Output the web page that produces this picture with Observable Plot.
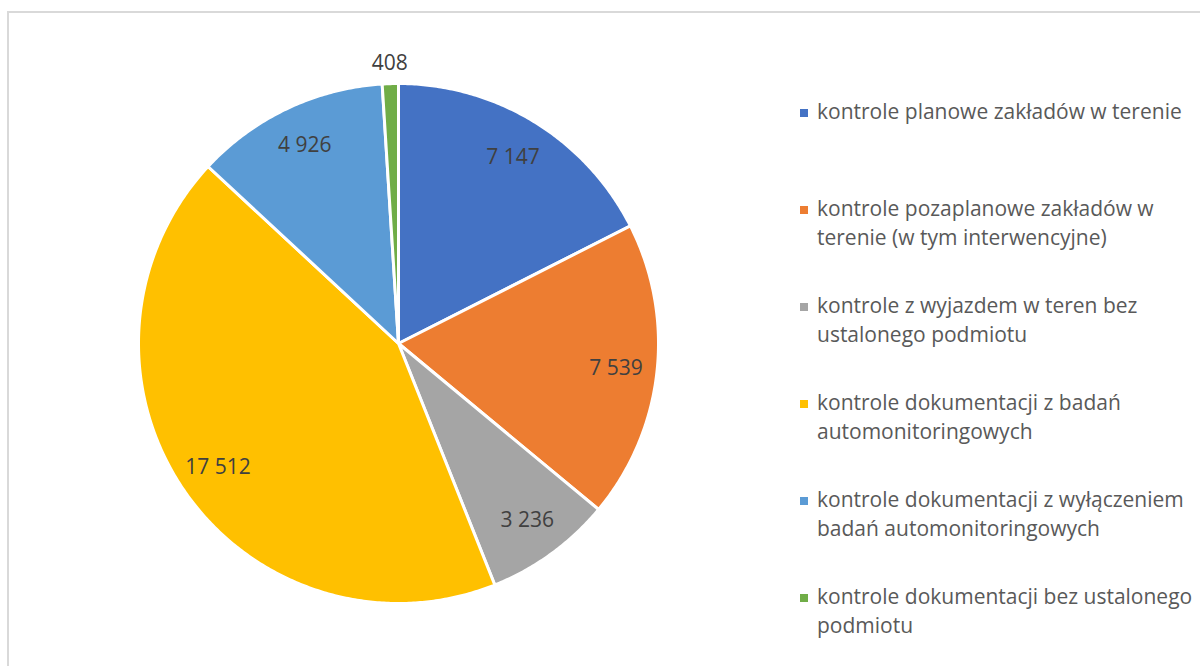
<!DOCTYPE html>
<html>
<head>
<meta charset="utf-8">
<script src="https://cdn.jsdelivr.net/npm/d3@7"></script>
<script src="https://cdn.jsdelivr.net/npm/@observablehq/plot@0.6"></script>
<style>
  html, body { margin: 0; padding: 0; background: #fff; }
  #wrap { position: relative; width: 1200px; height: 666px; overflow: hidden; font-family: "Open Sans", sans-serif; }
  #frame { position: absolute; left: 7px; top: 11px; width: 1400px; height: 900px; border: 2px solid #d9d9d9; box-sizing: border-box; }
  #chart { position: absolute; left: 0; top: 0; }
  #legend { position: absolute; left: 800px; top: 0; width: 400px; height: 666px; }
  .item { position: absolute; left: 0; display: flex; align-items: flex-start; }
  .sw { width: 8px; height: 8px; margin-top: 11px; margin-right: 9px; flex: none; }
  .lab { font-size: 21px; line-height: 29px; color: #595959; white-space: pre; margin-top: -1px; }
</style>
</head>
<body>
<div id="wrap">
  <div id="frame"></div>
  <div id="chart"></div>
  <div id="legend"></div>
</div>
<script>
// ---- data ----
const categories = [
  "kontrole planowe zakładów w terenie",
  "kontrole pozaplanowe zakładów w\nterenie (w tym interwencyjne)",
  "kontrole z wyjazdem w teren bez\nustalonego podmiotu",
  "kontrole dokumentacji z badań\nautomonitoringowych",
  "kontrole dokumentacji z wyłączeniem\nbadań automonitoringowych",
  "kontrole dokumentacji bez ustalonego\npodmiotu"
];
const values = [7147, 7539, 3236, 17512, 4926, 408];
const colors = ["#4472C4", "#ED7D31", "#A5A5A5", "#FFC000", "#5B9BD5", "#70AD47"];

// ---- geometry from data ----
const fmt = d3.formatLocale({decimal: ",", thousands: " ", grouping: [3], currency: ["", ""]}).format(",d");
const arcs = d3.pie().sort(null).value(d => d.value)(categories.map((c, i) => ({cat: c, value: values[i]})));
const total = d3.sum(values);

const pts = [];
arcs.forEach(a => {
  pts.push({cat: a.data.cat, x: 0, y: 0});
  const n = Math.max(2, Math.ceil((a.endAngle - a.startAngle) / (Math.PI / 360)));
  for (let k = 0; k <= n; k++) {
    const t = a.startAngle + (a.endAngle - a.startAngle) * k / n;
    pts.push({cat: a.data.cat, x: Math.sin(t), y: Math.cos(t)});
  }
});

const labels = arcs.map(a => {
  const m = (a.startAngle + a.endAngle) / 2;
  const k = a.data.value / total < 0.02 ? 1.08 : 0.842;
  return {x: k * Math.sin(m), y: k * Math.cos(m), text: fmt(a.data.value)};
});

// ---- layout ----
const cx = 398, cy = 343, r = 260;
const W = 800, H = 666;

const chart = Plot.plot({
  width: W, height: H,
  margin: 0,
  style: {background: "transparent", overflow: "visible", fontFamily: "Open Sans, sans-serif"},
  x: {domain: [-1, 1], range: [cx - r, cx + r], axis: null},
  y: {domain: [-1, 1], range: [cy + r, cy - r], axis: null},
  color: {domain: categories, range: colors},
  marks: [
    Plot.line(pts, {x: "x", y: "y", z: "cat", fill: "cat", stroke: "white", strokeWidth: 3, curve: "linear-closed", strokeLinejoin: "miter", strokeMiterlimit: 2}),
    Plot.text(labels, {x: "x", y: "y", text: "text", fontSize: 21, fill: "#404040"})
  ]
});
document.getElementById("chart").appendChild(chart);

// ---- legend ----
const leg = document.getElementById("legend");
categories.forEach((c, i) => {
  const it = document.createElement("div");
  it.className = "item";
  it.style.top = (98 + i * 97) + "px";
  const sw = document.createElement("div");
  sw.className = "sw";
  sw.style.background = colors[i];
  const lab = document.createElement("div");
  lab.className = "lab";
  lab.textContent = c;
  it.appendChild(sw);
  it.appendChild(lab);
  leg.appendChild(it);
});
</script>
</body>
</html>
